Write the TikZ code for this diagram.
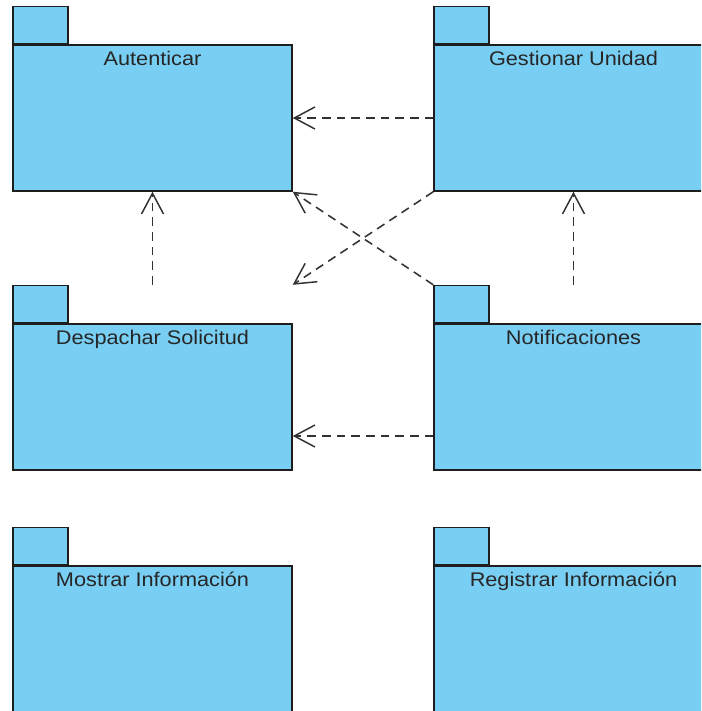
\documentclass[tikz,border=0pt]{standalone}
\usepackage{fontspec}
\usepackage{graphicx}
\setmainfont{Liberation Sans}
\usetikzlibrary{arrows.meta}
\definecolor{pkgfill}{RGB}{121,206,243}
\definecolor{pkgline}{RGB}{30,30,30}
\definecolor{depline}{RGB}{50,50,50}
% package names are set slightly wide
\newcommand\pkgname[1]{\scalebox{1.1}[1]{#1}}
\tikzset{
  pkgbody/.style={draw=pkgline, fill=pkgfill, line width=1.1pt, rectangle,
    minimum width=209.25pt, minimum height=109.5pt, inner sep=0pt},
  pkgtab/.style={draw=pkgline, fill=pkgfill, line width=1.1pt, rectangle,
    minimum width=41.25pt, minimum height=27.75pt, inner sep=0pt, anchor=south west},
  pkglabel/.style={anchor=base, inner sep=0pt, font=\fontsize{14.8}{17}\selectfont, text=black!85},
  dep/.style={draw=depline, line width=1.15pt, dash pattern=on 6.5pt off 4.5pt,
    -{Straight Barb[length=15.5pt,width=16.5pt,line width=1.1pt]}}
}
\begin{document}
\begin{tikzpicture}[x=0.75pt,y=-0.75pt]
  \useasboundingbox (0,0) rectangle (701,711);
  \clip (0,0) rectangle (701,711);
  \fill[white] (0,0) rectangle (701,711);

  % packages: body, tab on top-left corner, name near the top
  \node[pkgbody] (aut) at (152.5,118) {};
  \node[pkgtab] (autTab) at (aut.north west) {};
  \node[pkglabel] (autName) at ([yshift=-16pt]aut.north) {\pkgname{Autenticar}};

  \node[pkgbody] (gest) at (573.5,118) {};
  \node[pkgtab] (gestTab) at (gest.north west) {};
  \node[pkglabel] (gestName) at ([yshift=-16pt]gest.north) {\pkgname{Gestionar Unidad}};

  \node[pkgbody] (desp) at (152.5,397) {};
  \node[pkgtab] (despTab) at (desp.north west) {};
  \node[pkglabel] (despName) at ([yshift=-16pt]desp.north) {\pkgname{Despachar Solicitud}};

  \node[pkgbody] (notif) at (573.5,397) {};
  \node[pkgtab] (notifTab) at (notif.north west) {};
  \node[pkglabel] (notifName) at ([yshift=-16pt]notif.north) {\pkgname{Notificaciones}};

  \node[pkgbody] (most) at (152.5,639) {};
  \node[pkgtab] (mostTab) at (most.north west) {};
  \node[pkglabel] (mostName) at ([yshift=-16pt]most.north) {\pkgname{Mostrar Información}};

  \node[pkgbody] (reg) at (573.5,639) {};
  \node[pkgtab] (regTab) at (reg.north west) {};
  \node[pkglabel] (regName) at ([yshift=-16pt]reg.north) {\pkgname{Registrar Información}};

  % dependencies
  \draw[dep] (gest.west) -- (aut.east);
  \draw[dep] (desp.north |- despTab.north) -- (aut.south);
  \draw[dep] (notifTab.north west) -- (aut.south east);
  \draw[dep] (gest.south west) -- (desp.east |- despTab.north);
  \draw[dep] (notif.north |- notifTab.north) -- (gest.south);
  \coordinate (notifOut) at ([yshift=-29.25pt]notif.west);
  \draw[dep] (notifOut) -- (desp.east |- notifOut);
\end{tikzpicture}
\end{document}
